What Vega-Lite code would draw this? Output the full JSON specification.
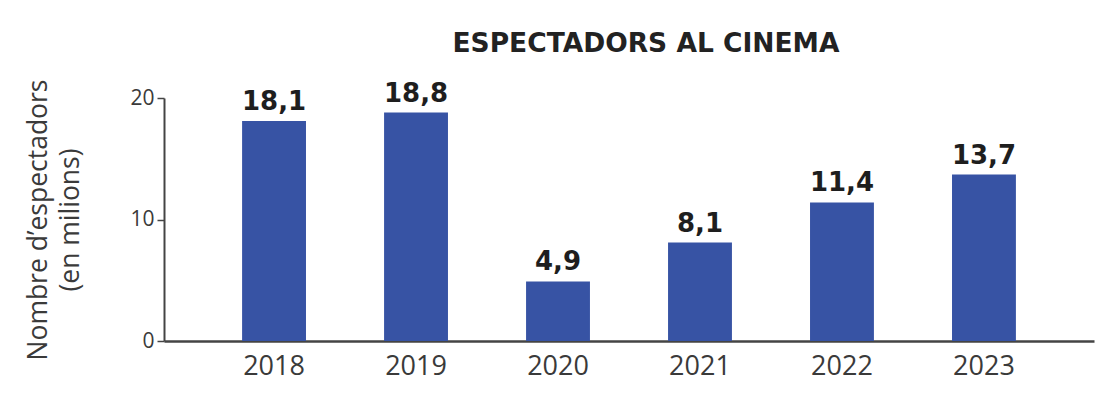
{
  "$schema": "https://vega.github.io/schema/vega-lite/v6.json",
  "width": 930,
  "height": 243,
  "autosize": {"type": "none"},
  "padding": {"left": 164, "top": 98, "right": 16, "bottom": 62},
  "background": "white",
  "data": {
    "values": [
      {"year": "2018", "value": 18.1, "label": "18,1"},
      {"year": "2019", "value": 18.8, "label": "18,8"},
      {"year": "2020", "value": 4.9, "label": "4,9"},
      {"year": "2021", "value": 8.1, "label": "8,1"},
      {"year": "2022", "value": 11.4, "label": "11,4"},
      {"year": "2023", "value": 13.7, "label": "13,7"}
    ]
  },
  "title": {
    "text": "ESPECTADORS AL CINEMA",
    "font": "DejaVu Sans",
    "fontSize": 26.5,
    "fontWeight": "bold",
    "color": "#222222",
    "anchor": "middle",
    "dx": 17,
    "offset": 21
  },
  "config": {
    "view": {"stroke": null},
    "axis": {"grid": false}
  },
  "encoding": {
    "x": {
      "field": "year",
      "type": "nominal",
      "scale": {"paddingInner": 0.55, "paddingOuter": 0.55},
      "axis": {
        "title": null,
        "labelAngle": 0,
        "ticks": false,
        "labelFont": "Open Sans",
        "labelFontSize": 27,
        "labelColor": "#3a3a3a",
        "labelPadding": 12,
        "domainColor": "#444444",
        "domainWidth": 2.5
      }
    },
    "y": {
      "field": "value",
      "type": "quantitative",
      "scale": {"domain": [0, 20]},
      "axis": {
        "values": [0, 10, 20],
        "title": ["Nombre d’espectadors", "(en milions)"],
        "titleFont": "Open Sans",
        "titleFontSize": 26.5,
        "titleFontWeight": "normal",
        "titleColor": "#3a3a3a",
        "titlePadding": 45,
        "titleLineHeight": 32,
        "labelFont": "Open Sans",
        "labelFontSize": 21,
        "labelColor": "#3a3a3a",
        "labelPadding": 3,
        "tickSize": 7,
        "tickColor": "#444444",
        "tickWidth": 1.5,
        "domainColor": "#444444",
        "domainWidth": 2
      }
    }
  },
  "layer": [
    {"mark": {"type": "bar", "color": "#3753a4"}},
    {
      "mark": {
        "type": "text",
        "baseline": "bottom",
        "dy": -6,
        "font": "DejaVu Sans",
        "fontSize": 26,
        "fontWeight": "bold",
        "color": "#1e1e1e"
      },
      "encoding": {"text": {"field": "label"}}
    }
  ]
}
